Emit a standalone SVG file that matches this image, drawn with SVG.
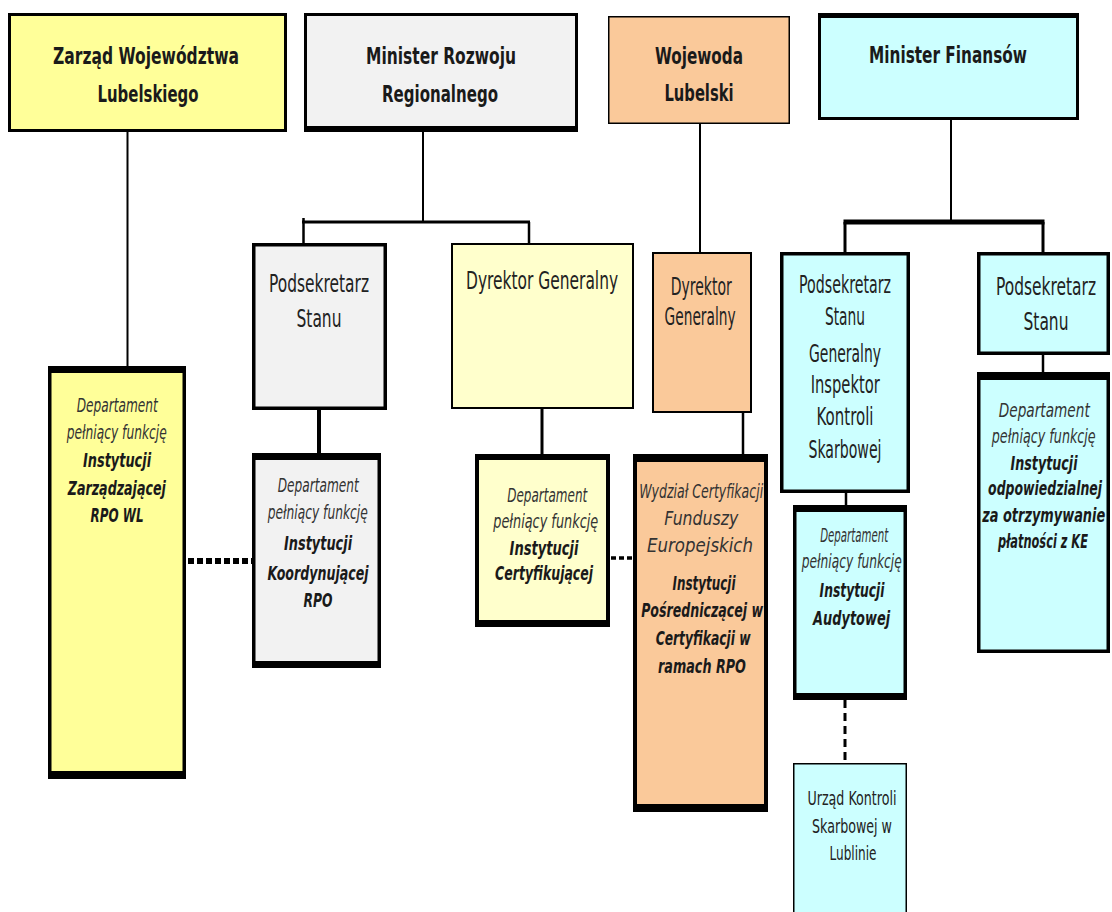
<svg xmlns="http://www.w3.org/2000/svg" width="1112" height="912" viewBox="0 0 1112 912">
<style>
.bg{fill:#ffffff}
.bx{stroke:#000;stroke-linejoin:miter}
.y1{fill:#FFFF99}
.gr{fill:#F2F2F2}
.ly{fill:#FFFFCC}
.pe{fill:#FAC99A}
.cy{fill:#CCFFFF}
.bar{fill:#000}
.c{stroke:#000;fill:none}
.t{font-family:"DejaVu Sans","Verdana",sans-serif;fill:#1a1a1a;text-anchor:middle;transform-box:fill-box;transform-origin:center}
.tt{font-weight:bold;font-size:23px;transform:scaleX(0.7)}
.tp{font-size:24px;fill:#222;transform:scaleX(0.6)}
.tu{font-size:20px;fill:#222;transform:scaleX(0.6)}
.ti{font-style:italic;font-size:19px;fill:#333;transform:scaleX(0.6)}
.tb{font-style:italic;font-weight:bold;font-size:20px;transform:scaleX(0.62)}
</style>
<rect class="bg" x="0" y="0" width="1112" height="912"/>

<g id="connectors">
  <line class="c" x1="127.5" y1="132" x2="127.5" y2="367" stroke-width="2"/>
  <line class="c" x1="423" y1="131" x2="423" y2="222" stroke-width="2"/>
  <line class="c" x1="302" y1="222" x2="530" y2="222" stroke-width="3"/>
  <line class="c" x1="303.5" y1="218" x2="303.5" y2="243" stroke-width="2.5"/>
  <line class="c" x1="529" y1="222" x2="529" y2="243" stroke-width="2.5"/>
  <line class="c" x1="700" y1="124" x2="700" y2="252" stroke-width="2"/>
  <line class="c" x1="951" y1="120" x2="951" y2="222" stroke-width="2"/>
  <line class="c" x1="843.5" y1="222" x2="1044.5" y2="222" stroke-width="5"/>
  <line class="c" x1="845" y1="222" x2="845" y2="252" stroke-width="3"/>
  <line class="c" x1="1043" y1="222" x2="1043" y2="252" stroke-width="3"/>
  <line class="c" x1="319" y1="410" x2="319" y2="453" stroke-width="4"/>
  <line class="c" x1="542" y1="409" x2="542" y2="454" stroke-width="3"/>
  <line class="c" x1="743" y1="413" x2="743" y2="454" stroke-width="2.5"/>
  <line class="c" x1="846" y1="493" x2="846" y2="505" stroke-width="2.5"/>
  <line class="c" x1="1043" y1="355" x2="1043" y2="372" stroke-width="2.5"/>
  <line class="c" x1="188" y1="561" x2="252" y2="561" stroke-width="6" stroke-dasharray="6 3"/>
  <line class="c" x1="611" y1="558" x2="633" y2="558" stroke-width="3.5" stroke-dasharray="5 3"/>
  <line class="c" x1="845" y1="700" x2="845" y2="763" stroke-width="3" stroke-dasharray="8 5"/>
</g>

<g id="n-zarzad">
  <rect class="bx y1" x="9.5" y="14.5" width="276" height="116" stroke-width="3"/>
  <text class="t tt" x="146" y="64" textLength="265.7" lengthAdjust="spacingAndGlyphs">Zarząd Województwa</text>
  <text class="t tt" x="148" y="102" textLength="144.3" lengthAdjust="spacingAndGlyphs">Lubelskiego</text>
</g>

<g id="n-mrr">
  <rect class="bx gr" x="305.5" y="14.5" width="271" height="114" stroke-width="3"/>
  <rect class="bar" x="304" y="126" width="274" height="6"/>
  <text class="t tt" x="441" y="64" textLength="214.3" lengthAdjust="spacingAndGlyphs">Minister Rozwoju</text>
  <text class="t tt" x="440" y="102" textLength="165.7" lengthAdjust="spacingAndGlyphs">Regionalnego</text>
</g>

<g id="n-wojewoda">
  <rect class="bx pe" x="608.75" y="16.75" width="180.5" height="106.5" stroke-width="1.5"/>
  <text class="t tt" x="699" y="64" textLength="125.7" lengthAdjust="spacingAndGlyphs">Wojewoda</text>
  <text class="t tt" x="699" y="101" textLength="98.6" lengthAdjust="spacingAndGlyphs">Lubelski</text>
</g>

<g id="n-mf">
  <rect class="bx cy" x="819.5" y="14.5" width="258" height="104" stroke-width="3"/>
  <rect class="bar" x="818" y="13" width="261" height="5"/>
  <text class="t tt" x="948" y="63" textLength="225.7" lengthAdjust="spacingAndGlyphs">Minister Finansów</text>
</g>

<g id="n-ps-mrr">
  <rect class="bx gr" x="253.75" y="244.75" width="131.5" height="163.5" stroke-width="3.5"/>
  <text class="t tp" x="319" y="292" textLength="166.7" lengthAdjust="spacingAndGlyphs">Podsekretarz</text>
  <text class="t tp" x="319" y="327" textLength="75" lengthAdjust="spacingAndGlyphs">Stanu</text>
</g>

<g id="n-dg-mrr">
  <rect class="bx ly" x="452" y="244" width="181" height="164" stroke-width="2"/>
  <text class="t tp" x="542" y="289" textLength="253.3" lengthAdjust="spacingAndGlyphs">Dyrektor Generalny</text>
</g>

<g id="n-dg-woj">
  <rect class="bx pe" x="653" y="253" width="98" height="159" stroke-width="2"/>
  <text class="t tp" x="701" y="295" textLength="101.7" lengthAdjust="spacingAndGlyphs">Dyrektor</text>
  <text class="t tp" x="700" y="325" textLength="118.3" lengthAdjust="spacingAndGlyphs">Generalny</text>
</g>

<g id="n-giks">
  <rect class="bx cy" x="781.75" y="253.75" width="126.5" height="237.5" stroke-width="3.5"/>
  <text class="t tp" x="845" y="293" textLength="153.3" lengthAdjust="spacingAndGlyphs">Podsekretarz</text>
  <text class="t tp" x="845" y="325" textLength="66.7" lengthAdjust="spacingAndGlyphs">Stanu</text>
  <text class="t tp" x="845" y="362" textLength="120" lengthAdjust="spacingAndGlyphs">Generalny</text>
  <text class="t tp" x="845" y="393" textLength="115" lengthAdjust="spacingAndGlyphs">Inspektor</text>
  <text class="t tp" x="845" y="425" textLength="95" lengthAdjust="spacingAndGlyphs">Kontroli</text>
  <text class="t tp" x="845" y="458" textLength="121.7" lengthAdjust="spacingAndGlyphs">Skarbowej</text>
</g>

<g id="n-ps-right">
  <rect class="bx cy" x="978.75" y="253.75" width="129.5" height="99.5" stroke-width="3.5"/>
  <text class="t tp" x="1046" y="295" textLength="166.7" lengthAdjust="spacingAndGlyphs">Podsekretarz</text>
  <text class="t tp" x="1046" y="330" textLength="75" lengthAdjust="spacingAndGlyphs">Stanu</text>
</g>

<g id="n-iz">
  <rect class="bx y1" x="49.75" y="368.75" width="134.5" height="408.5" stroke-width="3.5"/>
  <rect class="bar" x="48" y="366" width="138" height="7"/>
  <rect class="bar" x="48" y="771" width="138" height="8"/>
  <text class="t ti" x="117" y="412" textLength="135" lengthAdjust="spacingAndGlyphs">Departament</text>
  <text class="t ti" x="117" y="439" textLength="166.7" lengthAdjust="spacingAndGlyphs">pełniący funkcję</text>
  <text class="t tb" x="117" y="467" textLength="109.7" lengthAdjust="spacingAndGlyphs">Instytucji</text>
  <text class="t tb" x="117" y="495" textLength="158.1" lengthAdjust="spacingAndGlyphs">Zarządzającej</text>
  <text class="t tb" x="117" y="522" textLength="85.5" lengthAdjust="spacingAndGlyphs">RPO WL</text>
</g>

<g id="n-ik">
  <rect class="bx gr" x="253.75" y="454.75" width="125.5" height="211.5" stroke-width="3.5"/>
  <rect class="bar" x="252" y="453" width="129" height="7"/>
  <rect class="bar" x="252" y="661" width="129" height="7"/>
  <text class="t ti" x="318" y="492" textLength="135" lengthAdjust="spacingAndGlyphs">Departament</text>
  <text class="t ti" x="318" y="519" textLength="166.7" lengthAdjust="spacingAndGlyphs">pełniący funkcję</text>
  <text class="t tb" x="318" y="550" textLength="109.7" lengthAdjust="spacingAndGlyphs">Instytucji</text>
  <text class="t tb" x="318" y="580" textLength="162.9" lengthAdjust="spacingAndGlyphs">Koordynującej</text>
  <text class="t tb" x="318" y="607" textLength="46.8" lengthAdjust="spacingAndGlyphs">RPO</text>
</g>

<g id="n-ic">
  <rect class="bx ly" x="477" y="456" width="131" height="168" stroke-width="4"/>
  <rect class="bar" x="475" y="454" width="135" height="6"/>
  <rect class="bar" x="475" y="620" width="135" height="7"/>
  <text class="t ti" x="547" y="502" textLength="133.3" lengthAdjust="spacingAndGlyphs">Departament</text>
  <text class="t ti" x="546" y="528" textLength="175" lengthAdjust="spacingAndGlyphs">pełniący funkcję</text>
  <text class="t tb" x="544" y="555" textLength="111.3" lengthAdjust="spacingAndGlyphs">Instytucji</text>
  <text class="t tb" x="544" y="580" textLength="158.1" lengthAdjust="spacingAndGlyphs">Certyfikującej</text>
</g>

<g id="n-wydzial">
  <rect class="bx pe" x="635" y="456" width="131" height="354" stroke-width="4"/>
  <rect class="bar" x="633" y="454" width="135" height="8"/>
  <rect class="bar" x="633" y="804" width="135" height="8"/>
  <text class="t ti" x="701" y="498" textLength="206.7" lengthAdjust="spacingAndGlyphs">Wydział Certyfikacji</text>
  <text class="t ti" x="701" y="525" textLength="123.3" lengthAdjust="spacingAndGlyphs">Funduszy</text>
  <text class="t ti" x="700" y="552" textLength="176.7" lengthAdjust="spacingAndGlyphs">Europejskich</text>
  <text class="t tb" x="704" y="590" textLength="101.6" lengthAdjust="spacingAndGlyphs">Instytucji</text>
  <text class="t tb" x="702" y="617" textLength="196.8" lengthAdjust="spacingAndGlyphs">Pośredniczącej w</text>
  <text class="t tb" x="703" y="645" textLength="153.2" lengthAdjust="spacingAndGlyphs">Certyfikacji w</text>
  <text class="t tb" x="702" y="673" textLength="141.9" lengthAdjust="spacingAndGlyphs">ramach RPO</text>
</g>

<g id="n-ia">
  <rect class="bx cy" x="794.75" y="506.75" width="110.5" height="191.5" stroke-width="3.5"/>
  <rect class="bar" x="793" y="505" width="114" height="7"/>
  <rect class="bar" x="793" y="693" width="114" height="7"/>
  <text class="t ti" x="854" y="542" textLength="113.3" lengthAdjust="spacingAndGlyphs">Departament</text>
  <text class="t ti" x="852" y="568" textLength="166.7" lengthAdjust="spacingAndGlyphs">pełniący funkcję</text>
  <text class="t tb" x="852" y="597" textLength="104.8" lengthAdjust="spacingAndGlyphs">Instytucji</text>
  <text class="t tb" x="852" y="625" textLength="124.2" lengthAdjust="spacingAndGlyphs">Audytowej</text>
</g>

<g id="n-iop">
  <rect class="bx cy" x="978.75" y="373.75" width="129.5" height="277.5" stroke-width="3.5"/>
  <rect class="bar" x="977" y="372" width="133" height="8"/>
  <text class="t ti" x="1044" y="417" textLength="151.7" lengthAdjust="spacingAndGlyphs">Departament</text>
  <text class="t ti" x="1044" y="443" textLength="173.3" lengthAdjust="spacingAndGlyphs">pełniący funkcję</text>
  <text class="t tb" x="1044" y="470" textLength="108.1" lengthAdjust="spacingAndGlyphs">Instytucji</text>
  <text class="t tb" x="1045" y="495" textLength="183.9" lengthAdjust="spacingAndGlyphs">odpowiedzialnej</text>
  <text class="t tb" x="1044" y="522" textLength="198.4" lengthAdjust="spacingAndGlyphs">za otrzymywanie</text>
  <text class="t tb" x="1043" y="548" textLength="145.2" lengthAdjust="spacingAndGlyphs">płatności z KE</text>
</g>

<g id="n-uks">
  <rect class="bx cy" x="793.75" y="763.75" width="112.5" height="160" stroke-width="1.5"/>
  <text class="t tu" x="852" y="805" textLength="148.3" lengthAdjust="spacingAndGlyphs">Urząd Kontroli</text>
  <text class="t tu" x="852" y="833" textLength="133.3" lengthAdjust="spacingAndGlyphs">Skarbowej w</text>
  <text class="t tu" x="853" y="860" textLength="78.3" lengthAdjust="spacingAndGlyphs">Lublinie</text>
</g>
</svg>
